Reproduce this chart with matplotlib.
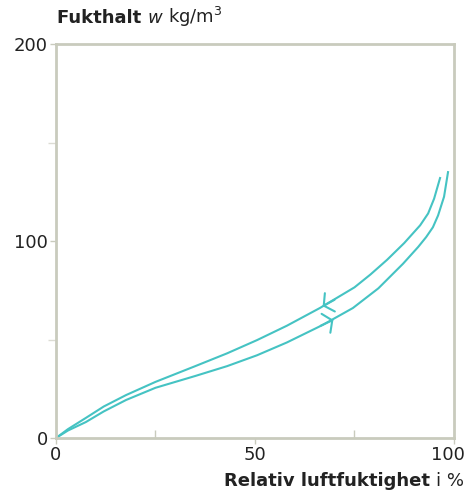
import matplotlib
matplotlib.use('Agg')
import matplotlib.pyplot as plt
from matplotlib.ticker import MultipleLocator

# desorption (upper curve, arrow to the left)
rh_up = [0, 3, 7.5, 12, 17.6, 25, 35, 43, 50.5, 58, 66.3, 75, 79, 83.2, 87.5, 91.5, 93.5, 95, 96.5]
w_up = [0, 4.5, 10.2, 16, 21.8, 28.5, 36.5, 43, 49.7, 57, 66, 76.5, 83, 90.5, 99, 108, 114, 121.5, 132]
# adsorption (lower curve, arrow to the right)
rh_lo = [0, 3, 7.5, 12, 17.6, 25, 35, 43, 50.5, 58, 67, 74.6, 81, 87.2, 91, 93, 94.7, 96, 97.5, 98.5]
w_lo = [0, 3.8, 8.1, 13.5, 19.3, 25.5, 31.5, 36.5, 42, 48.5, 57.4, 66.0, 76, 88.5, 97, 102, 107, 113, 122.5, 135]

x_ticks = [0, 50, 100]
x_labels = ['0', '50', '100']

line_col = '#45c3c3'
spine_col = '#c9cbbd'
txt_col = '#222222'
fs = 13

fig = plt.figure(figsize=(4.69, 4.90), dpi=100)
ax = fig.add_axes([0.1194, 0.1061, 0.8486, 0.8039])

ax.plot(rh_up, w_up, color=line_col, lw=1.5, solid_joinstyle='round')
ax.plot(rh_lo, w_lo, color=line_col, lw=1.5, solid_joinstyle='round')

# direction arrows on the curves (short shafts lying on the curves)
arrow = dict(arrowstyle='->,head_length=0.5,head_width=0.75', color=line_col, lw=1.5,
             shrinkA=0, shrinkB=0)
ax.annotate('', xy=(67.0, 66.9), xytext=(70.0, 70.2), arrowprops=arrow)
ax.annotate('', xy=(69.7, 60.0), xytext=(66.5, 57.0), arrowprops=arrow)

ax.set_xlim(0, 100)
ax.set_ylim(0, 200)
# last x label drawn by hand, nudged left so it stays inside the picture
ax.set_xticks(x_ticks, x_labels[:-1] + [''])
ax.xaxis.set_minor_locator(MultipleLocator(25))
ax.yaxis.set_major_locator(MultipleLocator(100))
ax.yaxis.set_minor_locator(MultipleLocator(50))
ax.annotate(x_labels[-1], xy=(x_ticks[-1], 0), xytext=(-4, -6), textcoords='offset points',
            ha='center', va='top', fontsize=fs, color=txt_col, annotation_clip=False)

for s in ax.spines.values():
    s.set_color(spine_col)
    s.set_linewidth(2)

ax.tick_params(axis='both', which='major', length=4, width=1, color=spine_col,
               labelsize=fs, labelcolor=txt_col, pad=2)
ax.tick_params(axis='y', which='minor', length=6, width=1, color='#dcdcd4', direction='out')
ax.tick_params(axis='x', which='minor', length=6, width=1, color=spine_col, direction='in')

fig.canvas.draw()
r = fig.canvas.get_renderer()


def chain(parts, x, y):
    # put text pieces one after the other, in figure pixels
    for s, kw in parts:
        t = fig.text(x / fig.bbox.width, y / fig.bbox.height, s, fontsize=fs,
                     color=txt_col, va='baseline', **kw)
        x = t.get_window_extent(renderer=r).x1


chain([('Fukthalt ', dict(fontweight='bold')),
       ('w ', dict(fontstyle='italic')),
       ('kg/m$^3$', {})], 57, 467)

chain([('Relativ luftfuktighet ', dict(fontweight='bold')),
       ('i %', {})], 224, 4)

fig.savefig('out.png', dpi=100)
